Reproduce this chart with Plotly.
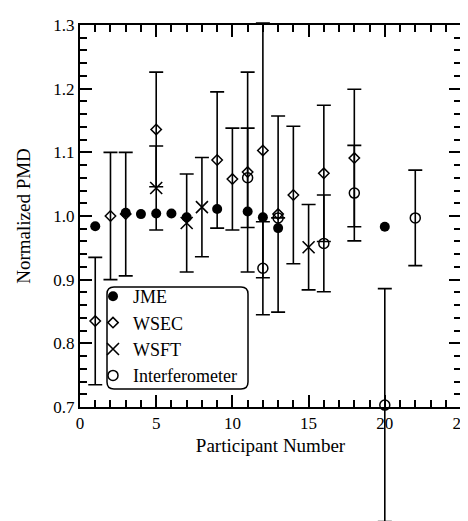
import numpy as np
import plotly.graph_objects as go

# ---- data ----
jme_x = [1, 3, 4, 5, 6, 7, 9, 11, 12, 13, 20]
jme_y = [0.984, 1.005, 1.003, 1.004, 1.004, 0.998, 1.011, 1.007, 0.998, 0.981, 0.983]

wsec_x = [1, 2, 3, 5, 9, 10, 11, 12, 13, 14, 16, 18]
wsec_y = [0.835, 1.0, 1.003, 1.136, 1.088, 1.058, 1.069, 1.103, 1.003, 1.033, 1.067, 1.091]
wsec_err = [0.1, 0.1, 0.097, 0.09, 0.107, 0.08, 0.157, 0.2, 0.154, 0.108, 0.107, 0.108]

wsft_x = [5, 7, 8, 15]
wsft_y = [1.044, 0.989, 1.014, 0.951]
wsft_err = [0.066, 0.077, 0.078, 0.067]

int_x = [11, 12, 13, 16, 18, 20, 22]
int_y = [1.06, 0.918, 0.997, 0.957, 1.036, 0.703, 0.997]
int_err = [0.078, 0.073, None, 0.076, 0.075, 0.183, 0.075]

x_ticks = [0, 5, 10, 15, 20, 25]
y_ticks = [0.7, 0.8, 0.9, 1.0, 1.1, 1.2, 1.3]

FONT = "Liberation Serif"
W, H = 468, 521
OFF = 8                                   # page body margin
M_T, M_B, M_L, M_R = 7, 0, 80 - OFF, 468 - (461 - OFF)
PLOT_TOP, PLOT_BOT = 25 - OFF, 407 - OFF  # figure rows of y=1.3 and y=0.7
Y_LO, Y_HI = 0.7, 1.3

ph = H - M_T - M_B
pw = W - M_L - M_R
dom = [(H - M_B - PLOT_BOT) / ph, (H - M_B - PLOT_TOP) / ph]
ppu = (PLOT_BOT - PLOT_TOP) / (Y_HI - Y_LO)
y2_range = [Y_LO - (H - M_B - PLOT_BOT) / ppu, Y_HI + (PLOT_TOP - M_T) / ppu]


def eb(arr):
    return dict(type="data", array=[np.nan if v is None else v for v in arr],
                visible=True, color="black", thickness=1.6, width=7)


fig = go.Figure()
fig.add_trace(go.Scatter(x=jme_x, y=jme_y, mode="markers", name="JME",
                         xaxis="x", yaxis="y", legendrank=1,
                         marker=dict(symbol="circle", size=10, color="black"),
                         cliponaxis=False))
fig.add_trace(go.Scatter(x=wsec_x, y=wsec_y, mode="markers", name="WSEC",
                         xaxis="x2", yaxis="y2", legendrank=2,
                         marker=dict(symbol="diamond-open", size=8, color="black",
                                     line=dict(width=1.5, color="black")),
                         error_y=eb(wsec_err), cliponaxis=False))
fig.add_trace(go.Scatter(x=wsft_x, y=wsft_y, mode="markers", name="WSFT",
                         xaxis="x2", yaxis="y2", legendrank=3,
                         marker=dict(symbol="x-thin-open", size=12, color="black",
                                     line=dict(width=1.6, color="black")),
                         error_y=eb(wsft_err), cliponaxis=False))
fig.add_trace(go.Scatter(x=int_x, y=int_y, mode="markers", name="Interferometer",
                         xaxis="x2", yaxis="y2", legendrank=4,
                         marker=dict(symbol="circle-open", size=10, color="black",
                                     line=dict(width=1.5, color="black")),
                         error_y=eb(int_err), cliponaxis=False))

minor_common = dict(ticks="inside", ticklen=7, tickcolor="black", tickwidth=1.5, showgrid=False)
axis_common = dict(showline=True, linecolor="black", linewidth=2, mirror="ticks",
                   ticks="inside", tickcolor="black", tickwidth=1.5, ticklen=12,
                   showgrid=False, zeroline=False,
                   tickfont=dict(family=FONT, size=17, color="black"))

fig.update_layout(
    width=W, height=H, margin=dict(l=M_L, r=M_R, t=M_T, b=M_B, autoexpand=False),
    plot_bgcolor="rgba(0,0,0,0)", paper_bgcolor="white",
    font=dict(family=FONT, size=17, color="black"),
    xaxis=dict(range=[0, 25], tickvals=x_ticks, ticktext=[str(v) for v in x_ticks],
               anchor="y", domain=[0, 1], minor=dict(dtick=1, **minor_common),
               title=dict(text="Participant Number",
                          font=dict(family=FONT, size=19, color="black"), standoff=6),
               **axis_common),
    yaxis=dict(range=[Y_LO, Y_HI], domain=dom, anchor="x",
               tickvals=y_ticks, ticktext=[f"{v:.1f}" for v in y_ticks],
               minor=dict(dtick=0.02, **minor_common),
               title=dict(text="Normalized PMD",
                          font=dict(family=FONT, size=19, color="black"), standoff=18),
               **axis_common),
    xaxis2=dict(range=[0, 25], domain=[0, 1], anchor="y2", visible=False,
                showgrid=False, zeroline=False),
    yaxis2=dict(range=y2_range, domain=[0, 1], anchor="x2", visible=False,
                showgrid=False, zeroline=False),
    legend=dict(x=(93 - OFF - M_L) / pw, y=1 - (278 - OFF - M_T) / ph,
                xref="paper", yref="paper", xanchor="left", yanchor="top",
                bgcolor="rgba(255,255,255,0)", borderwidth=0,
                itemsizing="trace",
                font=dict(family=FONT, size=18, color="black")),
    showlegend=True,
)

# rounded legend frame (reference pixel positions converted to paper coords)
def px_x(p):
    return (p - OFF - M_L) / pw

def px_y(p):
    return 1 - (p - OFF - M_T) / ph

x0, x1, y0, y1 = px_x(107), px_x(248), px_y(389), px_y(287)
rx, ry = px_x(107 + 7) - x0, px_y(287) - px_y(287 + 7)
path = (f"M {x0+rx},{y0} L {x1-rx},{y0} Q {x1},{y0} {x1},{y0+ry} L {x1},{y1-ry} "
        f"Q {x1},{y1} {x1-rx},{y1} L {x0+rx},{y1} Q {x0},{y1} {x0},{y1-ry} "
        f"L {x0},{y0+ry} Q {x0},{y0} {x0+rx},{y0} Z")
fig.add_shape(type="path", path=path, xref="paper", yref="paper",
              line=dict(color="black", width=1.5))

fig.write_html("out.html")
